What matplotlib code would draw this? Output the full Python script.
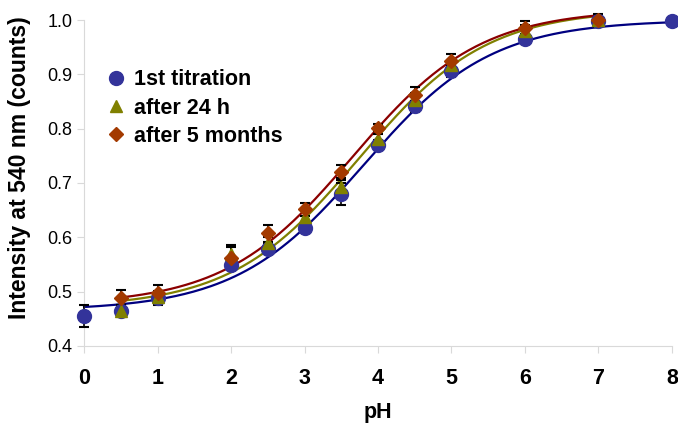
import numpy as np
import matplotlib
matplotlib.use('Agg')
import matplotlib.pyplot as plt

plt.rcParams['font.family'] = ['Liberation Sans', 'DejaVu Sans']

# measured points
ph_1st = [0, 0.5, 1, 2, 2.5, 3, 3.5, 4, 4.5, 5, 6, 7, 8]
int_1st = [0.455, 0.465, 0.488, 0.549, 0.579, 0.618, 0.680, 0.770, 0.841, 0.906, 0.965, 0.999, 0.998]
err_1st = [0.020, 0.010, 0.012, 0.010, 0.010, 0.006, 0.020, 0.010, 0.010, 0.010, 0.005, 0.012, 0.0]

ph_24h = [0.5, 1, 2, 2.5, 3, 3.5, 4, 4.5, 5, 6, 7]
int_24h = [0.465, 0.490, 0.570, 0.590, 0.638, 0.693, 0.781, 0.853, 0.917, 0.980, 1.0]
err_24h = [0.010, 0.012, 0.015, 0.010, 0.010, 0.012, 0.010, 0.012, 0.010, 0.010, 0.006]

ph_5m = [0.5, 1, 2, 2.5, 3, 3.5, 4, 4.5, 5, 6, 7]
int_5m = [0.488, 0.497, 0.562, 0.607, 0.652, 0.721, 0.802, 0.862, 0.925, 0.986, 1.0]
err_5m = [0.015, 0.015, 0.020, 0.015, 0.012, 0.012, 0.006, 0.015, 0.012, 0.012, 0.005]

# sigmoid fit parameters: bottom, top, pKa, slope, pH range
fit_1st = (0.465, 1.00, 3.80, 0.50, 0, 8)
fit_24h = (0.470, 1.02, 3.74, 0.50, 0.5, 7)
fit_5m = (0.475, 1.02, 3.65, 0.50, 0.5, 7)

labels = ['1st titration', 'after 24 h', 'after 5 months']


def sigmoid(x, b, t, pka, n):
    return b + (t - b) / (1 + 10 ** (n * (pka - x)))


fig = plt.figure(figsize=(6.78, 4.26), dpi=100)
ax = fig.add_axes([0.124, 0.188, 0.867, 0.765])

line_cols = ['#000080', '#808000', '#8B0000']
for (b, t, pka, n, x0, x1), c in zip([fit_1st, fit_24h, fit_5m], line_cols):
    xs = np.linspace(x0, x1, 200)
    ax.plot(xs, sigmoid(xs, b, t, pka, n), color=c, lw=1.6, zorder=2, clip_on=False)

series = [
    (ph_1st, int_1st, err_1st, 'o', '#33339A', 10),
    (ph_24h, int_24h, err_24h, '^', '#808000', 9),
    (ph_5m, int_5m, err_5m, 'D', '#A33A00', 7.5),
]
for (x, y, e, m, c, ms), lab in zip(series, labels):
    ax.errorbar(x, y, yerr=e, fmt='none', ecolor='black', elinewidth=1.2,
                capsize=3.5, capthick=1.5, zorder=3, clip_on=False)
    ax.plot(x, y, ls='none', marker=m, color=c, ms=ms, mec=c, label=lab,
            zorder=4, clip_on=False)

ax.set_xlim(0, 8)
ax.set_ylim(0.4, 1.0)
ax.set_xticks(range(0, 9))
ax.set_yticks(np.arange(0.4, 1.01, 0.1))
ax.set_yticklabels([f'{v:.1f}' for v in np.arange(0.4, 1.01, 0.1)], fontsize=13)
ax.set_xticklabels([str(v) for v in range(0, 9)], fontsize=15.5, fontweight='bold')

for s in ['top', 'right']:
    ax.spines[s].set_visible(False)
for s in ['left', 'bottom']:
    ax.spines[s].set_color('#d9d9d9')
ax.tick_params(axis='both', colors='#d9d9d9', length=5, labelcolor='black')
ax.tick_params(axis='x', pad=11)

ax.set_xlabel('pH', fontsize=15.5, fontweight='bold', labelpad=9)
ax.set_ylabel('Intensity at 540 nm (counts)', fontsize=16.6, fontweight='bold')
ax.yaxis.set_label_coords(-0.09, 0.548)

ax.legend(loc='center left', bbox_to_anchor=(0.04, 0.73), frameon=False,
          prop={'size': 15.5, 'weight': 'bold'}, handlelength=0.8,
          handletextpad=0.45, labelspacing=0.33, borderaxespad=0, borderpad=0)

fig.savefig('out.png', dpi=100)
